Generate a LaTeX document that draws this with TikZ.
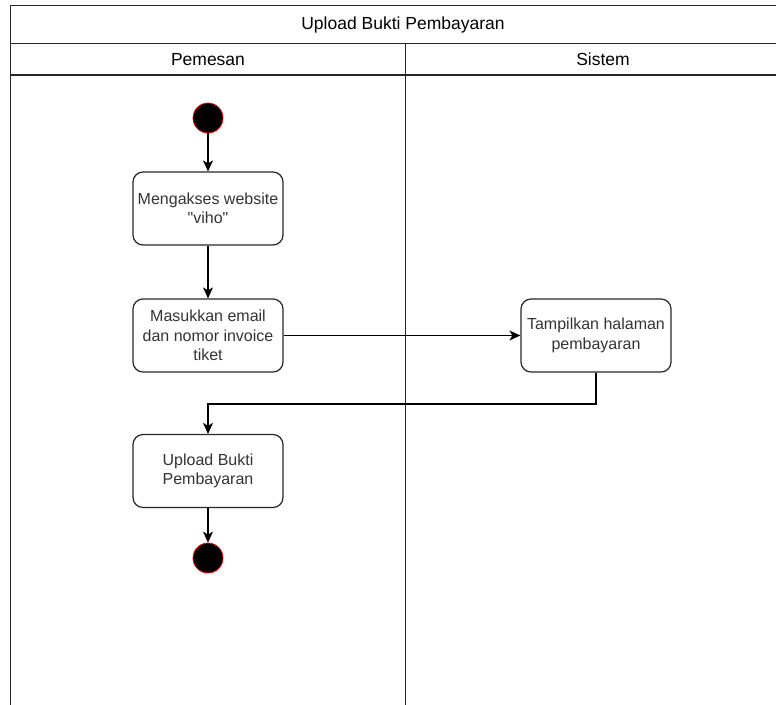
\documentclass[tikz,border=0pt]{standalone}
\usepackage{fontspec}
\setmainfont{Liberation Sans}[Ligatures=TeXReset]
\usetikzlibrary{arrows.meta}
\begin{document}
\begin{tikzpicture}[x=1pt,y=-1pt,
  lane/.style={draw=black!85, line width=1.4pt},
  act/.style={draw=black!85, line width=1.2pt, rounded corners=10pt,
    minimum width=150pt, minimum height=73pt, align=center, inner sep=2pt,
    text=black!80, font=\fontsize{16}{19.5}\selectfont},
  endpt/.style={circle, fill=black, draw=red, line width=0.8pt,
    minimum size=30pt, inner sep=0pt},
  flow/.style={draw=black, line width=1.1pt,
    -{Stealth[length=11pt,width=10pt,inset=3pt]}},
  hdr/.style={font=\fontsize{17.5}{20}\selectfont, text=black}]
\useasboundingbox (0,0) rectangle (776,704);
\clip (0,0) rectangle (776,704);

% swimlane frame: title row, lane headers, lane divider
\draw[lane] (10.5,5.5) rectangle (800.5,720);
\draw[lane] (10.5,43.5) -- (800.5,43.5);
\draw[lane] (10.5,75) -- (800.5,75);
\draw[lane] (405.5,43.5) -- (405.5,720);
\node[hdr] (title) at (403,24.5) {Upload Bukti Pembayaran};
\node[hdr] (lanePemesan) at (208,59.5) {Pemesan};
\node[hdr] (laneSistem) at (603,59.5) {Sistem};

% activities
\node[endpt] (start) at (208,118) {};
\node[act] (a1) at (208,208.5) {Mengakses website\\"viho"};
\node[act] (a2) at (208,335.5) {Masukkan email\\dan nomor invoice\\tiket};
\node[act] (a3) at (596,335.5) {Tampilkan halaman\\pembayaran};
\node[act] (a4) at (208,471) {Upload Bukti\\Pembayaran};
\node[endpt] (finish) at (208,558) {};

% control flow
\coordinate (bend) at (596,404);
\draw[flow] (start) -- (a1);
\draw[flow] (a1) -- (a2);
\draw[flow] (a2) -- (a3);
\draw[flow] (a3.south) -- (bend) -| (a4.north);
\draw[flow] (a4) -- (finish);
\end{tikzpicture}
\end{document}
